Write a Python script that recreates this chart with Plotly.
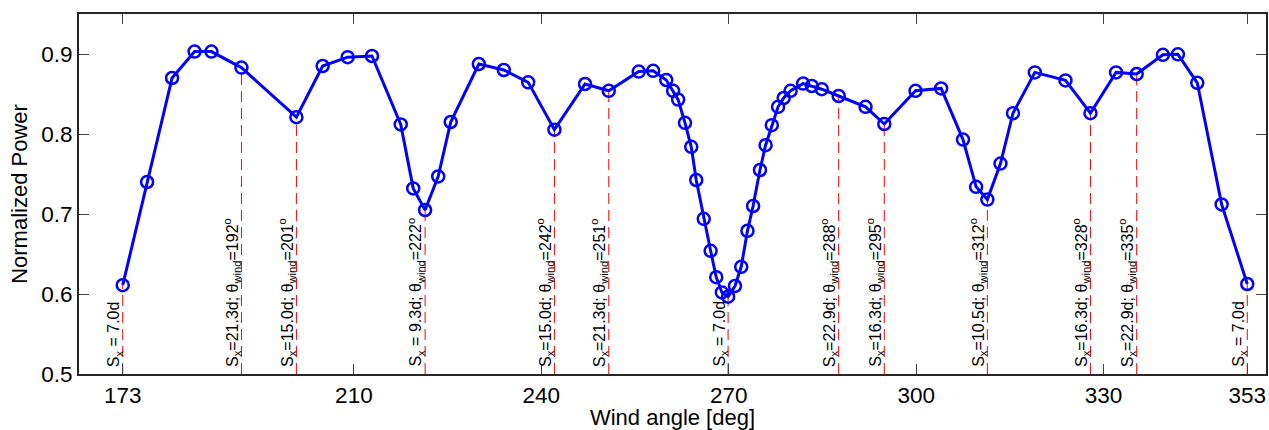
import plotly.graph_objects as go

# Wind angle [deg] and normalized power
wind_angle = [173.0, 176.9, 180.9, 184.5, 187.2, 192.0, 200.8, 205.0, 209.0, 212.9,
              217.5, 219.5, 221.4, 223.5, 225.5, 230.0, 234.0, 237.9, 242.1, 247.0,
              250.8, 255.6, 257.9, 260.0, 261.1, 261.9, 263.0, 264.0, 264.8, 266.0,
              267.1, 268.0, 268.9, 269.9, 271.0, 272.0, 273.0, 273.9, 275.0, 275.9,
              276.9, 277.9, 278.8, 279.9, 281.9, 283.3, 284.9, 287.6, 291.9, 294.9,
              299.9, 304.0, 307.5, 309.6, 311.4, 313.5, 315.5, 319.0, 323.9, 327.9,
              332.0, 335.3, 339.5, 341.9, 345.0, 348.9, 353.0]
norm_power = [0.611, 0.740, 0.870, 0.903, 0.903, 0.883, 0.821, 0.885, 0.896, 0.8975,
              0.812, 0.732, 0.705, 0.747, 0.815, 0.8875, 0.880, 0.8646, 0.8054, 0.8625,
              0.854, 0.878, 0.879, 0.8675, 0.854, 0.843, 0.814, 0.784, 0.7425, 0.694,
              0.654, 0.621, 0.602, 0.5966, 0.610, 0.634, 0.679, 0.710, 0.755, 0.786,
              0.811, 0.834, 0.845, 0.854, 0.863, 0.860, 0.856, 0.8475, 0.834, 0.8125,
              0.854, 0.857, 0.793, 0.734, 0.718, 0.763, 0.826, 0.877, 0.867, 0.826,
              0.877, 0.875, 0.899, 0.8996, 0.864, 0.712, 0.6125]

# marked angles (dashed lines) with spacing and wind direction labels
marked_angle = [173.0, 192.0, 200.8, 221.4, 242.1, 250.8, 269.9, 287.6, 294.9, 311.4, 327.9, 335.3, 353.0]
spacing_d = ["7.0", "21.3", "15.0", "9.3", "15.0", "21.3", "7.0", "22.9", "16.3", "10.5", "16.3", "22.9", "7.0"]
wind_label = [None, 192, 201, 222, 242, 251, None, 288, 295, 312, 328, 335, None]
spaced_eq = [True, False, False, True, False, False, True, False, False, False, False, False, True]

x_ticks = [173, 210, 240, 270, 300, 330, 353]
y_ticks = [0.5, 0.6, 0.7, 0.8, 0.9]

FONT = "Liberation Sans, Arial, Helvetica, sans-serif"
power_at = dict(zip(wind_angle, norm_power))

fig = go.Figure()

# dashed vertical markers from bottom to data point
lx, ly = [], []
for a in marked_angle:
    lx += [a, a, None]
    ly += [0.5, power_at[a], None]
fig.add_trace(go.Scatter(x=lx, y=ly, mode="lines",
                         line=dict(color="#ff0000", width=1, dash="11px,6px"),
                         hoverinfo="skip", showlegend=False))

fig.add_trace(go.Scatter(x=wind_angle, y=norm_power, mode="lines+markers",
                         line=dict(color="#0000ff", width=3),
                         marker=dict(symbol="circle-open", size=12, color="#0000ff",
                                     line=dict(width=2.5, color="#0000ff")),
                         showlegend=False))

for a, s, w, sp in zip(marked_angle, spacing_d, wind_label, spaced_eq):
    eq = " = " if sp else "="
    txt = f"S<sub>x</sub>{eq}{s}d"
    if w is not None:
        txt += f"; θ<sub>wind</sub>={w}<sup>o</sup>"
    fig.add_annotation(x=a, y=0.5, xref="x", yref="y", text=txt, showarrow=False,
                       textangle=-90, xanchor="right", yanchor="bottom",
                       xshift=1, yshift=7, borderpad=0, borderwidth=0,
                       font=dict(family=FONT, size=16, color="black"))

axis_common = dict(showline=True, linecolor="#262626", linewidth=2, mirror="ticks",
                   ticks="inside", ticklen=10, tickwidth=1, tickcolor="#404040",
                   showgrid=False, zeroline=False,
                   tickfont=dict(family=FONT, size=22.5, color="black"),
                   title_font=dict(family=FONT, size=22, color="black"))

fig.update_xaxes(range=[166, 356], tickvals=x_ticks, ticktext=[str(v) for v in x_ticks],
                 title_text="Wind angle [deg]", title_standoff=6, **axis_common)
fig.update_yaxes(range=[0.5, 0.95], tickvals=y_ticks, ticktext=[f"{v:.1f}" for v in y_ticks],
                 title_text="Normalized Power", title_standoff=8, **axis_common)

fig.update_layout(width=1269, height=430, margin=dict(l=79, r=1, t=14, b=56),
                  plot_bgcolor="white", paper_bgcolor="white",
                  font=dict(family=FONT))

fig.write_html("out.html")
